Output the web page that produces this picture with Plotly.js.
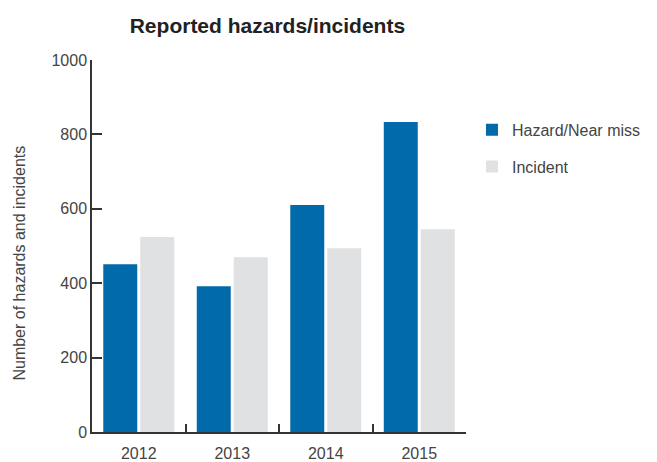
<!DOCTYPE html>
<html>
<head>
<meta charset="utf-8">
<script src="https://cdn.plot.ly/plotly-3.0.1.min.js"></script>
<style>html,body{margin:0;padding:0;background:#fff;}#chart{width:657px;height:462px;}</style>
</head>
<body>
<div id="chart"></div>
<script>
const years = ['2012', '2013', '2014', '2015'];
const hazardNearMiss = [451, 392, 610, 833];
const incident = [524, 470, 494, 545];
const seriesNames = ['Hazard/Near miss', 'Incident'];
const chartTitle = 'Reported hazards/incidents';
const yTitle = 'Number of hazards and incidents';

const FONT = 'Liberation Sans, Arial, sans-serif';
const TXT = '#444';

const traces = [
  {type: 'bar', x: years, y: hazardNearMiss, name: seriesNames[0], legendgroup: 'a',
   marker: {color: '#006aaa'}, hoverinfo: 'x+y+name'},
  {type: 'bar', x: years, y: incident, name: seriesNames[1], legendgroup: 'b',
   marker: {color: '#e0e1e3'}, hoverinfo: 'x+y+name'}
];

const layout = {
  width: 657, height: 462,
  margin: {l: 92, r: 191, t: 60, b: 30, pad: 0, autoexpand: false},
  paper_bgcolor: '#fff', plot_bgcolor: '#fff',
  font: {family: FONT, size: 16, color: TXT},
  title: {text: '<b>' + chartTitle + '</b>', font: {family: FONT, size: 21, color: '#222'},
          x: 0.407, xref: 'container', xanchor: 'center', y: 0.945, yref: 'container', yanchor: 'middle'},
  barmode: 'group', bargap: 0.209, bargroupgap: 0.081,
  xaxis: {type: 'category', range: [-0.5, 3.5], showline: true, linecolor: '#333', linewidth: 1.5,
          ticks: 'inside', ticklen: 8, tickwidth: 1.5, tickcolor: '#333', tickson: 'boundaries',
          ticklabelstandoff: 6,
          showgrid: false, zeroline: false, tickfont: {size: 16, color: TXT}, fixedrange: true},
  yaxis: {range: [0, 1000], dtick: 200, showline: true, linecolor: '#333', linewidth: 1.5,
          ticks: 'inside', ticklen: 10, tickwidth: 1.5, tickcolor: '#333',
          showgrid: false, zeroline: false, tickfont: {size: 16, color: TXT}, fixedrange: true},
  showlegend: true,
  legend: {x: 1.016, xanchor: 'left', y: 0.858, yanchor: 'top', font: {size: 16, color: TXT},
           tracegroupgap: 13, bgcolor: 'rgba(0,0,0,0)', itemclick: false, itemdoubleclick: false},
  annotations: [
    {text: yTitle, xref: 'paper', yref: 'paper', x: -0.193, y: 0.455, xanchor: 'center', yanchor: 'middle',
     textangle: -90, showarrow: false, font: {size: 16, color: TXT}}
  ]
};

Plotly.newPlot('chart', traces, layout, {displayModeBar: false});
</script>
</body>
</html>
